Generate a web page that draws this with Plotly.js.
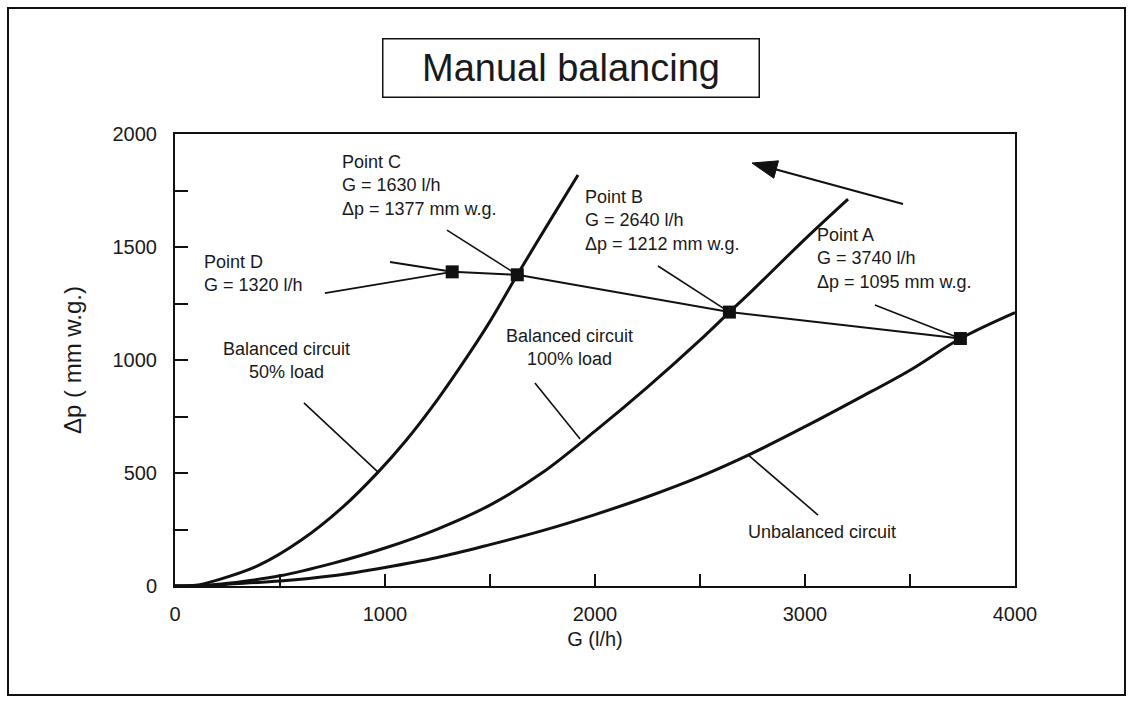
<!DOCTYPE html>
<html>
<head>
<meta charset="utf-8">
<script src="https://cdn.plot.ly/plotly-3.0.1.min.js"></script>
<style>html,body{margin:0;padding:0;background:#fff;}#chart{width:1133px;height:704px;}</style>
</head>
<body>
<div id="chart"></div>
<script>
// ---- Data ----
const gUnbalanced  = [0, 150, 250, 500, 750, 1000, 1250, 1500, 1750, 2000, 2250, 2500, 2750, 3000, 3250, 3500, 3740, 4000];
const dpUnbalanced = [0, 2, 8, 22, 45, 82, 126, 183, 245, 316, 395, 484, 588, 705, 828, 955, 1095, 1210];

const gBal100  = [0, 150, 250, 500, 750, 1000, 1250, 1500, 1750, 2000, 2250, 2500, 2640, 2750, 3000, 3205];
const dpBal100 = [0, 3, 12, 45, 100, 168, 252, 358, 502, 685, 880, 1088, 1212, 1308, 1535, 1712];

const gBal50  = [0, 100, 200, 400, 600, 800, 967, 1100, 1250, 1400, 1500, 1630, 1775, 1919];
const dpBal50 = [0, 3, 26, 92, 202, 350, 504, 644, 825, 1027, 1171, 1377, 1600, 1819];

const gSystem  = [1024, 1320, 1630, 2640, 3740];
const dpSystem = [1434, 1390, 1377, 1212, 1095];

const pointNames = ["D", "C", "B", "A"];
const gPoints  = [1320, 1630, 2640, 3740];
const dpPoints = [1390, 1377, 1212, 1095];

const xTickVals = [0, 1000, 2000, 3000, 4000];
const yTickVals = [0, 500, 1000, 1500, 2000];

// ---- Layout helpers (pixel -> paper) ----
const L = 175, R = 1015, T = 134, B = 586;
const px = x => (x - L) / (R - L);
const py = y => (B - y) / (B - T);
const FONT = "Liberation Sans, Arial, Helvetica, sans-serif";
const TXT = "#1a1a1a";

const curveLine = {color: "#111", width: 3, shape: "spline", smoothing: 1};
const traces = [
  {x: gUnbalanced, y: dpUnbalanced, mode: "lines", line: curveLine, hoverinfo: "skip"},
  {x: gBal100, y: dpBal100, mode: "lines", line: curveLine, hoverinfo: "skip"},
  {x: gBal50, y: dpBal50, mode: "lines", line: curveLine, hoverinfo: "skip"},
  {x: gSystem, y: dpSystem, mode: "lines", line: {color: "#111", width: 2}, hoverinfo: "skip"},
  {x: gPoints, y: dpPoints, mode: "markers", marker: {symbol: "square", size: 13, color: "#111"}, text: pointNames, hoverinfo: "text"}
];

// pointer lines: start (data coords) -> a point on a curve / marker
const idx = n => pointNames.indexOf(n);
const pointers = [
  [1295, 1575, gPoints[idx("C")], dpPoints[idx("C")]],
  [714, 1296, gPoints[idx("D")], dpPoints[idx("D")]],
  [2300, 1416, gPoints[idx("B")], dpPoints[idx("B")]],
  [3333, 1243, gPoints[idx("A")], dpPoints[idx("A")]],
  [614, 810, gBal50[6], dpBal50[6]],
  [1714, 898, 1929, 650],
  [3062, 314, 2729, 580]
];
const shapes = pointers.map(p => ({type: "line", xref: "x", yref: "y", x0: p[0], y0: p[1], x1: p[2], y1: p[3], line: {color: "#111", width: 1.6}}));

// outer frame
shapes.push({type: "rect", xref: "paper", yref: "paper", x0: px(8), x1: px(1125), y0: py(695), y1: py(8), line: {color: "#111", width: 2}});

// big arrow (pixel geometry)
(function () {
  const tail = [903, 204], tip = [752, 163];
  const dx = tip[0] - tail[0], dy = tip[1] - tail[1];
  const len = Math.hypot(dx, dy), ux = dx / len, uy = dy / len;
  const hl = 25, hw = 9;
  const bx = tip[0] - hl * ux, by = tip[1] - hl * uy;
  const nx = -uy, ny = ux;
  shapes.push({type: "line", xref: "paper", yref: "paper", x0: px(tail[0]), y0: py(tail[1]), x1: px(bx), y1: py(by), line: {color: "#111", width: 2.2}});
  const c1 = [bx + hw * nx, by + hw * ny], c2 = [bx - hw * nx, by - hw * ny];
  shapes.push({type: "path", xref: "paper", yref: "paper",
    path: `M ${px(tip[0])} ${py(tip[1])} L ${px(c1[0])} ${py(c1[1])} L ${px(c2[0])} ${py(c2[1])} Z`,
    fillcolor: "#111", line: {color: "#111", width: 1}});
})();

function label(text, x, yTop, anchor, align, size) {
  return {text: text, xref: "paper", yref: "paper", x: px(x), y: py(yTop), xanchor: anchor, yanchor: "top",
    align: align, showarrow: false, font: {family: FONT, size: size || 18, color: TXT}};
}

const annotations = [
  label("Point C<br>G = 1630 l/h<br>Δp = 1377 mm w.g.", 340, 150, "left", "left"),
  label("Point D<br>G = 1320 l/h", 202, 250, "left", "left"),
  label("Point B<br>G = 2640 l/h<br>Δp = 1212 mm w.g.", 583, 185, "left", "left"),
  label("Point A<br>G = 3740 l/h<br>Δp = 1095 mm w.g.", 815, 223, "left", "left"),
  label("Balanced circuit<br>50% load", 286, 337, "center", "center"),
  label("Balanced circuit<br>100% load", 569, 324, "center", "center"),
  label("Unbalanced circuit", 822, 520, "center", "center"),
  {text: "Manual balancing", xref: "paper", yref: "paper", x: px(570.5), y: py(68.5), xanchor: "center", yanchor: "middle",
   showarrow: false, width: 373, height: 55, bordercolor: "#111", borderwidth: 1.5, borderpad: 1, bgcolor: "#fff",
   font: {family: FONT, size: 38, color: TXT}}
];

const layout = {
  width: 1133, height: 704,
  margin: {l: L, r: 1133 - R, t: T, b: 704 - B, pad: 0},
  paper_bgcolor: "#fff", plot_bgcolor: "#fff",
  showlegend: false,
  font: {family: FONT, color: TXT},
  xaxis: {
    range: [0, 4000], tickvals: xTickVals, ticktext: xTickVals.map(String),
    ticks: "inside", ticklen: 12, tickwidth: 2, tickcolor: "#111",
    minor: {tickvals: [500, 1500, 2500, 3500], ticks: "inside", ticklen: 12, tickwidth: 2, tickcolor: "#111"},
    showline: true, linecolor: "#111", linewidth: 2, mirror: true,
    showgrid: false, zeroline: false,
    tickfont: {family: FONT, size: 20, color: TXT}, ticklabelstandoff: 9,
    title: {text: "G (l/h)", font: {family: FONT, size: 20, color: TXT}, standoff: 8}
  },
  yaxis: {
    range: [0, 2000], tickvals: yTickVals, ticktext: yTickVals.map(String),
    ticks: "inside", ticklen: 13, tickwidth: 2, tickcolor: "#111",
    minor: {tickvals: [250, 750, 1250, 1750], ticks: "inside", ticklen: 13, tickwidth: 2, tickcolor: "#111"},
    showline: true, linecolor: "#111", linewidth: 2, mirror: true,
    showgrid: false, zeroline: false,
    tickfont: {family: FONT, size: 20, color: TXT}, ticklabelstandoff: 12,
    title: {text: "Δp ( mm w.g.)", font: {family: FONT, size: 24, color: TXT}, standoff: 24}
  },
  shapes: shapes,
  annotations: annotations
};

Plotly.newPlot("chart", traces, layout, {displayModeBar: false, staticPlot: true});
</script>
</body>
</html>
